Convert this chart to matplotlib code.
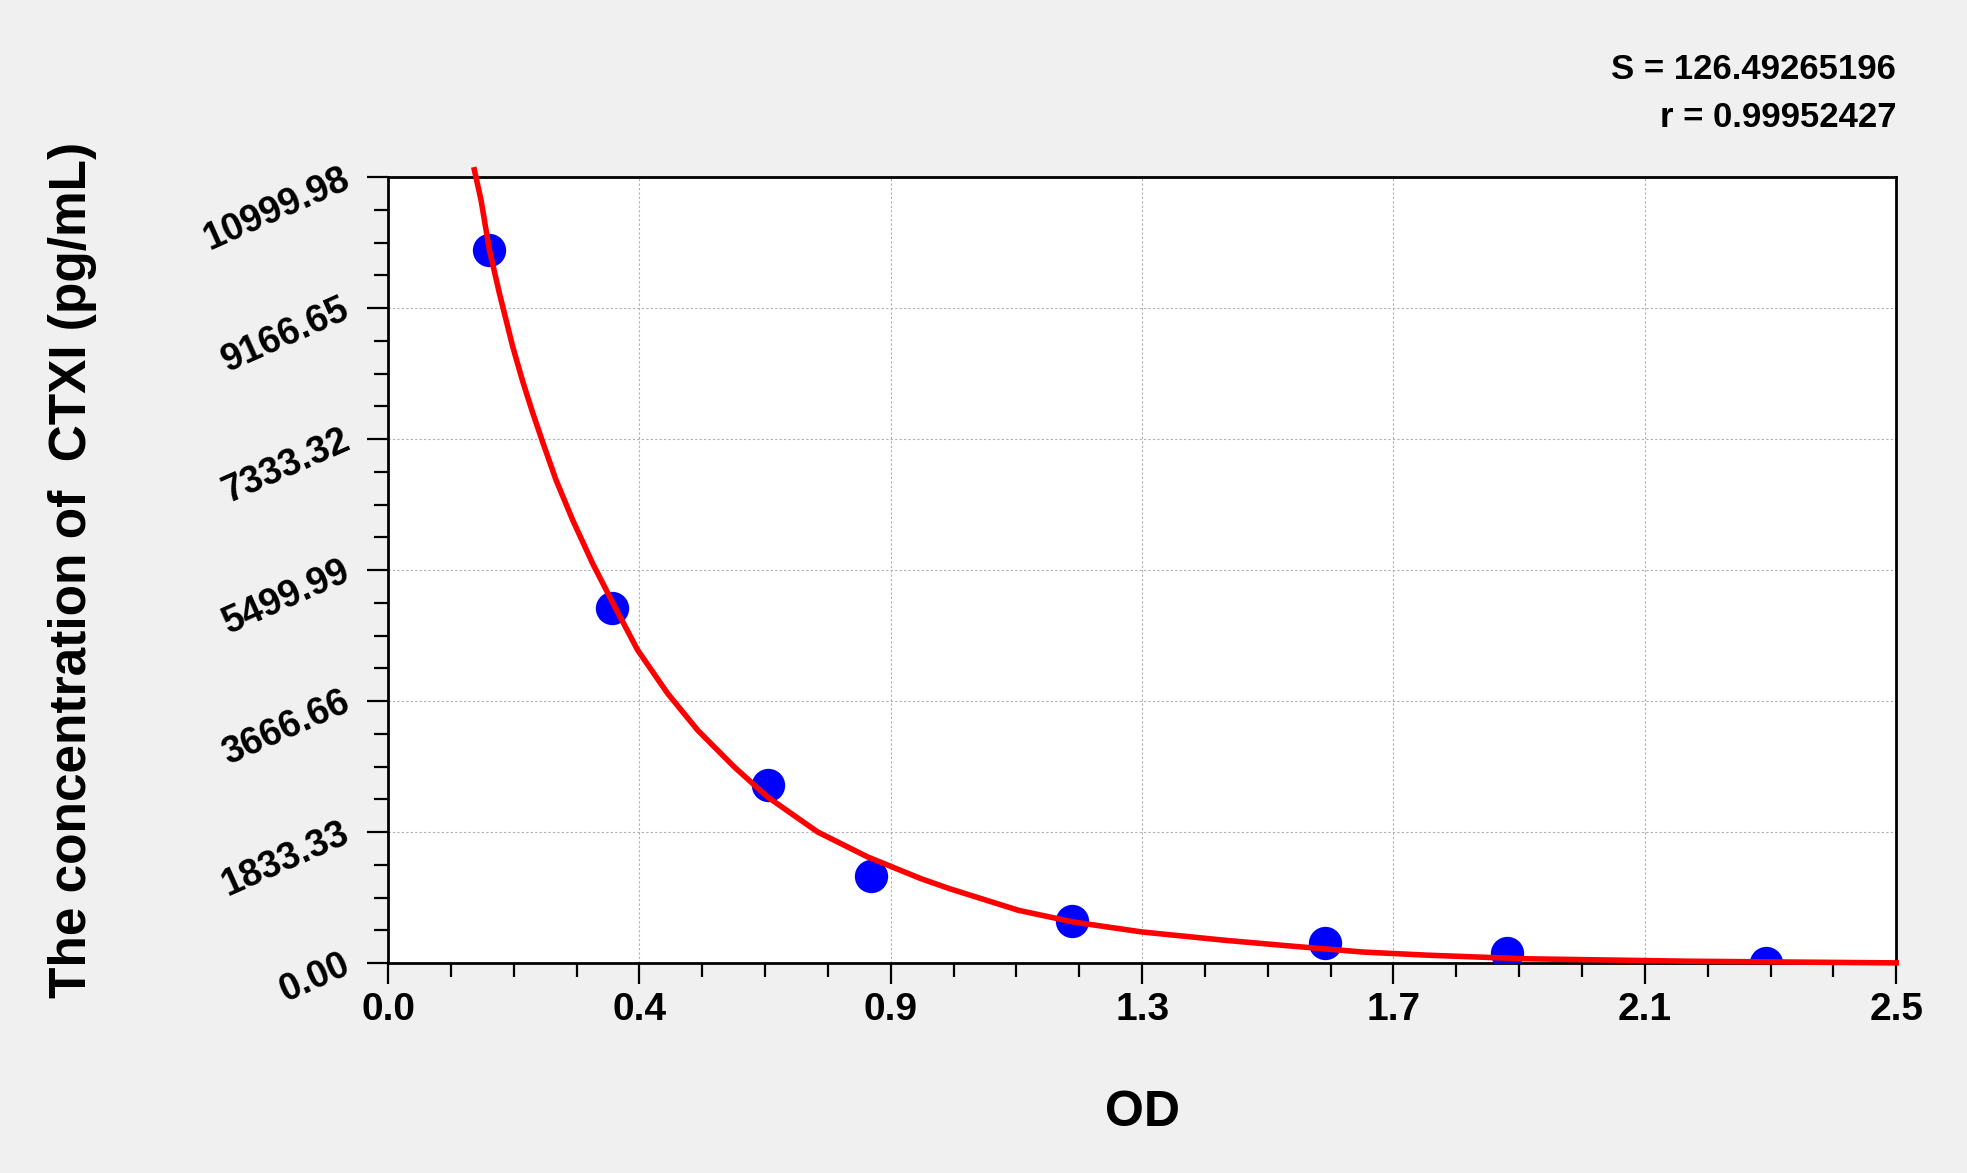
import numpy as np
import matplotlib
matplotlib.use("Agg")
import matplotlib.pyplot as plt
from matplotlib.ticker import AutoMinorLocator

plt.rcParams['font.family'] = ['Liberation Sans', 'DejaVu Sans']
plt.rcParams['font.weight'] = 'bold'

# standard points (OD, concentration)
od = [0.167, 0.371, 0.629, 0.800, 1.134, 1.553, 1.855, 2.284]
conc = [9975, 4965, 2490, 1220, 585, 275, 140, 0]

# fitted curve
curve_od = [0.143, 0.154, 0.168, 0.1845, 0.2066, 0.2232, 0.2398, 0.2563,
            0.2784, 0.306, 0.339, 0.375, 0.4137, 0.4634, 0.5132, 0.5738,
            0.629, 0.712, 0.795, 0.883, 0.931, 1.045, 1.136, 1.2505,
            1.3876, 1.5016, 1.6158, 1.7227, 1.883, 2.159, 2.5]
curve_conc = [11102, 10682, 9982, 9375, 8627, 8140, 7700, 7290,
              6761, 6200, 5594, 5000, 4380, 3773, 3259, 2745,
              2325, 1835, 1485, 1182, 1040, 738, 574, 434,
              318, 234, 154, 110, 60, 25, 2]

xticks = [0, 2.5/6, 5/6, 1.25, 10/6, 12.5/6, 2.5]
xlabels = ['0.0', '0.4', '0.9', '1.3', '1.7', '2.1', '2.5']
yticks = [0, 1833.33, 3666.66, 5499.99, 7333.32, 9166.65, 10999.98]
ylabels = ['0.00', '1833.33', '3666.66', '5499.99', '7333.32', '9166.65', '10999.98']

fig = plt.figure(figsize=(19.67, 11.73), dpi=100, facecolor='#f0f0f0')
ax = fig.add_axes([0.1973, 0.179, 0.7667, 0.670])
ax.set_facecolor('white')

ax.plot(od, conc, 'o', color='#0000ff', markersize=24, markeredgewidth=0, zorder=3)
ax.plot(curve_od, curve_conc, color='#ff0000', linewidth=4, zorder=4, clip_on=False,
        solid_joinstyle='round')

ax.set_xlim(0, 2.5)
ax.set_ylim(0, 10999.98)
ax.set_xticks(xticks)
ax.set_xticklabels(xlabels, fontsize=28, fontweight='bold')
ax.set_yticks(yticks)
ax.set_yticklabels(ylabels, fontsize=27, fontweight='bold', rotation=24,
                   rotation_mode='anchor', ha='right', va='center')
ax.xaxis.set_minor_locator(AutoMinorLocator(4))
ax.yaxis.set_minor_locator(AutoMinorLocator(4))
ax.tick_params(which='major', direction='out', length=15, width=1.6, pad=6)
ax.tick_params(which='minor', direction='out', length=10, width=1.6)
ax.tick_params(axis='y', which='major', pad=14)

for s in ax.spines.values():
    s.set_linewidth(2)

ax.grid(True, which='major', linestyle=(0, (2, 2)), linewidth=0.8, color='#b0b0b0')
ax.set_axisbelow(True)

ax.set_xlabel('OD', fontsize=36, fontweight='bold')
ax.xaxis.set_label_coords(0.5, -0.162)
ax.set_ylabel('The concentration of  CTXI (pg/mL)', fontsize=37, fontweight='bold')
ax.yaxis.set_label_coords(-0.193, 0.5)

fig.text(0.964, 0.9405, 'S = 126.49265196', ha='right', va='center', fontsize=25, fontweight='bold')
fig.text(0.964, 0.8995, 'r = 0.99952427', ha='right', va='center', fontsize=25, fontweight='bold')

fig.savefig('out.png', dpi=100, facecolor=fig.get_facecolor())
